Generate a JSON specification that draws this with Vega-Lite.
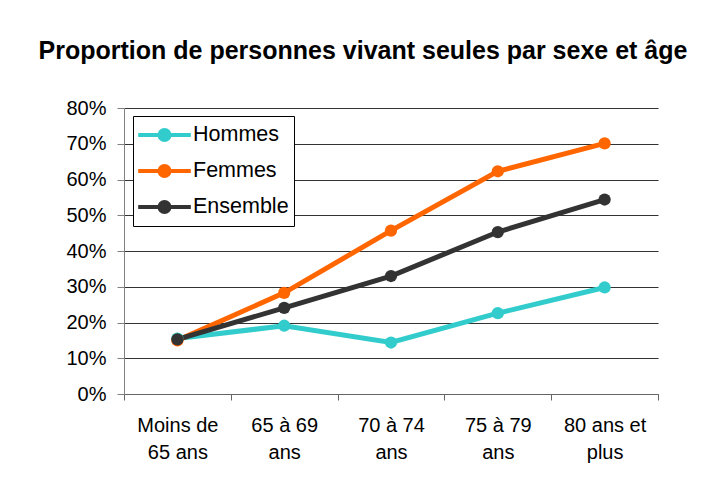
{
  "$schema": "https://vega.github.io/schema/vega-lite/v6.json",
  "autosize": "none",
  "width": 534,
  "height": 286,
  "padding": {"left": 124, "top": 108, "right": 57, "bottom": 85},
  "background": "white",
  "title": {
    "text": "Proportion de personnes vivant seules par sexe et âge",
    "font": "Liberation Sans",
    "fontSize": 25,
    "fontWeight": "bold",
    "color": "black",
    "anchor": "middle",
    "dx": -28,
    "baseline": "alphabetic",
    "offset": 14
  },
  "data": {
    "values": [
      {"age": "Moins de 65 ans", "serie": "Hommes", "part": 0.155},
      {"age": "65 à 69 ans", "serie": "Hommes", "part": 0.191},
      {"age": "70 à 74 ans", "serie": "Hommes", "part": 0.144},
      {"age": "75 à 79 ans", "serie": "Hommes", "part": 0.226},
      {"age": "80 ans et plus", "serie": "Hommes", "part": 0.298},
      {"age": "Moins de 65 ans", "serie": "Femmes", "part": 0.150},
      {"age": "65 à 69 ans", "serie": "Femmes", "part": 0.283},
      {"age": "70 à 74 ans", "serie": "Femmes", "part": 0.457},
      {"age": "75 à 79 ans", "serie": "Femmes", "part": 0.623},
      {"age": "80 ans et plus", "serie": "Femmes", "part": 0.701},
      {"age": "Moins de 65 ans", "serie": "Ensemble", "part": 0.153},
      {"age": "65 à 69 ans", "serie": "Ensemble", "part": 0.241},
      {"age": "70 à 74 ans", "serie": "Ensemble", "part": 0.330},
      {"age": "75 à 79 ans", "serie": "Ensemble", "part": 0.453},
      {"age": "80 ans et plus", "serie": "Ensemble", "part": 0.544}
    ]
  },
  "encoding": {
    "x": {
      "field": "age",
      "type": "nominal",
      "sort": null,
      "bandPosition": 0.5,
      "scale": {"type": "band", "paddingInner": 0, "paddingOuter": 0},
      "axis": {
        "title": null,
        "labelAngle": 0,
        "labelFont": "Liberation Sans",
        "labelFontSize": 20,
        "labelColor": "black",
        "labelLineHeight": 27,
        "labelPadding": 15,
        "labelExpr": "!isValid(datum.value) ? '' : datum.value == 'Moins de 65 ans' ? ['Moins de', '65 ans'] : datum.value == '80 ans et plus' ? ['80 ans et', 'plus'] : [replace(datum.value, ' ans', ''), 'ans']",
        "tickBand": "extent",
        "tickSize": 6,
        "tickColor": "#666666",
        "domainColor": "#666666",
        "grid": false
      }
    },
    "y": {
      "field": "part",
      "type": "quantitative",
      "scale": {"domain": [0, 0.8], "nice": false},
      "axis": {
        "title": null,
        "values": [0, 0.1, 0.2, 0.3, 0.4, 0.5, 0.6, 0.7, 0.8],
        "format": ".0%",
        "labelFont": "Liberation Sans",
        "labelFontSize": 20,
        "labelColor": "black",
        "labelPadding": 11,
        "tickSize": 7,
        "tickColor": "#808080",
        "domainColor": "#808080",
        "grid": true,
        "gridColor": "#333333",
        "gridOpacity": 1
      }
    },
    "color": {
      "field": "serie",
      "type": "nominal",
      "sort": ["Hommes", "Femmes", "Ensemble"],
      "scale": {"domain": ["Hommes", "Femmes", "Ensemble"], "range": ["#33CCCC", "#FF6600", "#333333"]},
      "legend": {
        "title": null,
        "orient": "none",
        "legendX": 9,
        "legendY": 8,
        "strokeColor": "black",
        "fillColor": "white",
        "padding": 5,
        "clipHeight": 28,
        "symbolType": "M -1 0 L 1 0 M 0.19 0 A 0.19 0.19 0 1 1 -0.19 0 A 0.19 0.19 0 1 1 0.19 0 Z",
        "symbolSize": 2770,
        "symbolStrokeWidth": 4,
        "symbolOffset": -2,
        "labelFont": "Liberation Sans",
        "labelFontSize": 21.5,
        "labelColor": "black",
        "labelOffset": 0,
        "rowPadding": 8,
        "encode": {
          "symbols": {"update": {"fill": {"scale": "color", "field": "value"}, "stroke": {"scale": "color", "field": "value"}, "opacity": {"value": 1}}}
        }
      }
    }
  },
  "layer": [
    {"mark": {"type": "line", "strokeWidth": 5}},
    {"mark": {"type": "point", "filled": true, "size": 150, "opacity": 1}}
  ],
  "config": {"view": {"stroke": null}}
}
